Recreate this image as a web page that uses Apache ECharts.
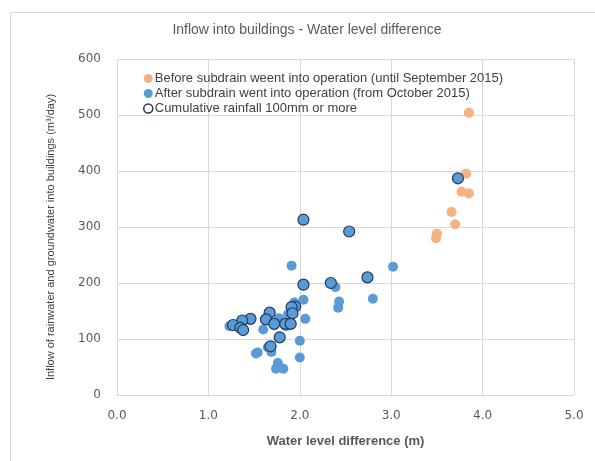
<!DOCTYPE html>
<html>
<head>
<meta charset="utf-8">
<script src="https://cdn.jsdelivr.net/npm/echarts@6/dist/echarts.min.js"></script>
<style>
html,body{margin:0;padding:0;background:#fff;}
#main{width:595px;height:461px;}
</style>
</head>
<body>
<div id="main"></div>
<script>
// Data: [water level difference (m), inflow (m3/day)]
var beforeData = [
  [3.85,504],[3.82,395],[3.77,363],[3.85,360],[3.66,327],[3.70,305],[3.50,288],[3.49,280]
];
var afterData = [
  [1.91,231],[3.02,229],[2.39,193],[2.04,170],[2.43,167],[2.80,172],[2.42,156],[1.94,165],
  [1.87,144],[1.77,137],[2.06,136],[1.23,123],[1.85,123],[1.60,117],[2.00,97],[1.65,85],
  [1.69,77],[1.54,76],[1.52,74],[2.00,67],[1.76,57],[1.74,47],[1.82,47]
];
var rainData = [
  [2.04,313],[2.54,292],[2.74,210],[2.34,200],[2.04,197],[1.95,158],[1.91,157],[1.92,146],
  [1.67,147],[1.63,135],[1.46,136],[1.37,133],[1.72,127],[1.84,127],[1.90,127],[1.27,125],
  [1.35,120],[1.38,116],[1.78,103],[1.68,87],[3.73,387]
];
var seriesNames = [
  'Before subdrain weent into operation (until September 2015)',
  'After subdrain went into operation (from October 2015)',
  'Cumulative rainfall 100mm or more'
];
var titleText = 'Inflow into buildings - Water level difference';
var xName = 'Water level difference (m)';
var yName = 'Inflow of rainwater and groundwater into buildings (m\u00b3/day)';

var chart = echarts.init(document.getElementById('main'), null, {renderer:'canvas'});
var orange = '#F4B183', blue = '#5B9BD5', navy = '#1F3864';
chart.setOption({
  animation:false,
  backgroundColor:'#fff',
  graphic:[
    {type:'rect', shape:{x:10.5,y:12.5,width:700,height:700}, style:{fill:'none',stroke:'#d9d9d9',lineWidth:1}, z:-10},
    {type:'text', style:{x:307, y:30, text:titleText, font:'14px "Liberation Sans", Arial, sans-serif', fill:'#595959', textAlign:'center', textVerticalAlign:'middle'}},
    {type:'text', x:51, y:237, rotation:Math.PI/2, style:{x:0, y:0, text:yName, font:'11px "Liberation Sans", Arial, sans-serif', fill:'#404040', textAlign:'center', textVerticalAlign:'middle'}}
  ],
  grid:{left:117, right:21, top:59, bottom:66},
  legend:{
    orient:'vertical', left:138, top:67, itemGap:2, itemWidth:9, itemHeight:9,
    textStyle:{fontFamily:'"Liberation Sans", Arial, sans-serif', fontSize:13, color:'#404040', padding:[0,0,0,-3]},
    data:[
      {name:seriesNames[0], icon:'circle'},
      {name:seriesNames[1], icon:'circle'},
      {name:seriesNames[2], icon:'circle', itemStyle:{color:'#fff', borderColor:navy, borderWidth:1.5}}
    ]
  },
  xAxis:{
    type:'value', min:0, max:5, interval:1,
    name:xName, nameLocation:'middle', nameGap:40,
    nameTextStyle:{fontFamily:'"Liberation Sans", Arial, sans-serif', fontSize:13, fontWeight:'bold', color:'#595959'},
    axisLine:{show:true, lineStyle:{color:'#d9d9d9'}},
    axisTick:{show:false},
    splitLine:{show:true, lineStyle:{color:'#d9d9d9'}},
    axisLabel:{formatter:function(v){return v.toFixed(1);}, fontFamily:'"DejaVu Sans", Verdana, sans-serif', fontSize:12, color:'#595959', margin:15}
  },
  yAxis:{
    type:'value', min:0, max:600, interval:100,
    axisLine:{show:true, lineStyle:{color:'#d9d9d9'}},
    axisTick:{show:false},
    splitLine:{show:true, lineStyle:{color:'#d9d9d9'}},
    axisLabel:{fontFamily:'"DejaVu Sans", Verdana, sans-serif', fontSize:12, color:'#595959', margin:16}
  },
  series:[
    {name:seriesNames[0], type:'scatter', data:beforeData, symbol:'circle', symbolSize:10, itemStyle:{color:orange, opacity:1}},
    {name:seriesNames[1], type:'scatter', data:afterData, symbol:'circle', symbolSize:10, itemStyle:{color:blue, opacity:1}},
    {name:seriesNames[2], type:'scatter', data:rainData, symbol:'circle', symbolSize:11, itemStyle:{color:blue, borderColor:navy, borderWidth:1.2, opacity:1}}
  ]
});
</script>
</body>
</html>
